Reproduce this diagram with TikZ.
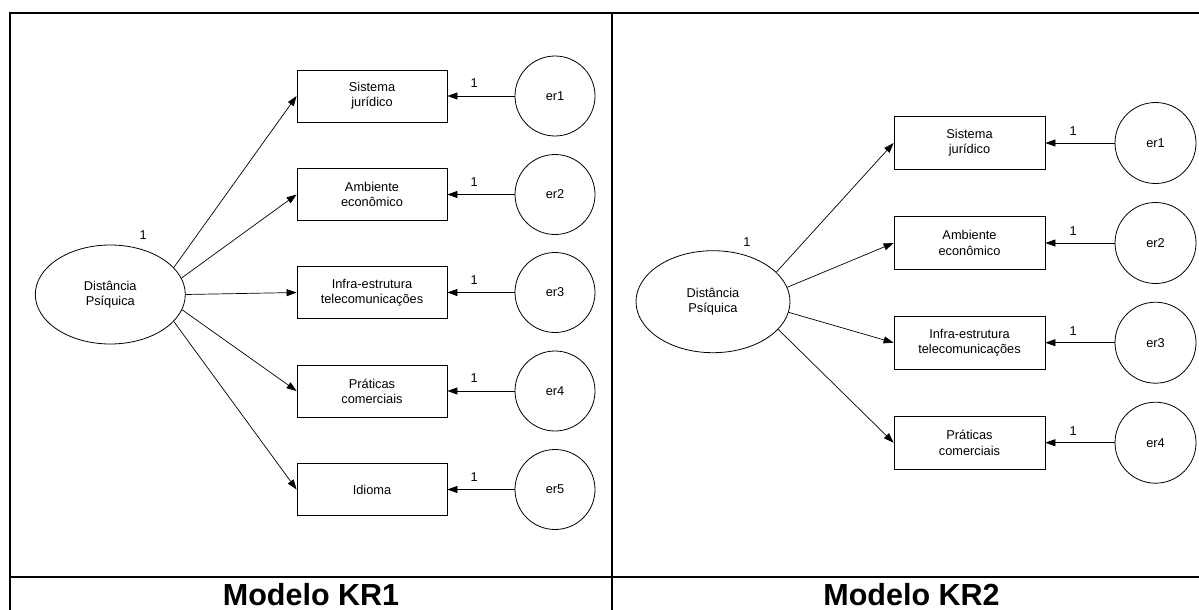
\documentclass[tikz,border=0pt]{standalone}
\usepackage{fontspec}
\setmainfont{Liberation Sans}
\usetikzlibrary{arrows.meta,shapes.geometric}
\begin{document}
\begin{tikzpicture}[x=1pt,y=-1pt,
  every node/.style={font=\fontsize{12.8}{15.3}\selectfont, inner sep=0pt},
  obs/.style={draw, line width=0.8pt, minimum width=150pt, minimum height=52pt, align=center},
  lat/.style={draw, ellipse, line width=0.8pt, align=center},
  err/.style={draw, circle, line width=0.8pt, minimum size=80pt},
  regpath/.style={line width=0.7pt, -{Triangle[length=10pt,width=7pt]}},
  frame/.style={line width=2pt},
  captext/.style={font=\fontsize{30.5}{30.5}\selectfont\bfseries}
]
\useasboundingbox (0,0) rectangle (1199,610);

% table frame
\draw[frame] (9.5,610) -- (9.5,12.7) -- (1199,12.7);
\draw[frame] (611.5,12.7) -- (611.5,610);
\draw[frame] (9.5,577) -- (1199,577);
\node[captext] (capA) at (311,595) {Modelo KR1};
\node[captext] (capB) at (911.5,595) {Modelo KR2};

% ---------- Modelo KR1 ----------
\node[lat, minimum width=150pt, minimum height=99pt] (dA) at (110.3,294.5) {Distância\\Psíquica};
\node (vA) at ([shift={(33,-59.5)}]dA.center) {1};

\node[obs] (a1) at (372,96)    {Sistema\\jurídico};
\node[obs] (a2) at (372,194.5) {Ambiente\\econômico};
\node[obs] (a3) at (372,292.5) {Infra-estrutura\\telecomunicações};
\node[obs] (a4) at (372,391)   {Práticas\\comerciais};
\node[obs] (a5) at (372,489.5) {Idioma};

\node[err] (ea1) at (555,96)    {er1};
\node[err] (ea2) at (555,194.5) {er2};
\node[err] (ea3) at (555,292.5) {er3};
\node[err] (ea4) at (555,391)   {er4};
\node[err] (ea5) at (555,489.5) {er5};

\draw[regpath] (dA.23)  -- (a1.west);
\draw[regpath] (dA.13)  -- (a2.west);
\draw[regpath] (dA.0)   -- (a3.west);
\draw[regpath] (dA.-12) -- (a4.west);
\draw[regpath] (dA.-23) -- (a5.west);

\foreach \i in {1,...,5}
  \draw[regpath] (ea\i.west) -- node[pos=0.6, yshift=12.7pt] (wa\i) {1} (a\i.east);

% ---------- Modelo KR2 ----------
\node[lat, minimum width=154pt, minimum height=102pt] (dB) at (713,301.7) {Distância\\Psíquica};
\node (vB) at ([shift={(34,-60)}]dB.center) {1};

\node[obs, minimum width=151pt, minimum height=52.6pt] (b1) at (969.5,143)   {Sistema\\jurídico};
\node[obs, minimum width=151pt, minimum height=52.6pt] (b2) at (969.5,243)   {Ambiente\\econômico};
\node[obs, minimum width=151pt, minimum height=52.6pt] (b3) at (969.5,342.7) {Infra-estrutura\\telecomunicações};
\node[obs, minimum width=151pt, minimum height=52.6pt] (b4) at (969.5,442.7) {Práticas\\comerciais};

\node[err, minimum size=81pt] (eb1) at (1155.5,143)   {er1};
\node[err, minimum size=81pt] (eb2) at (1155.5,243)   {er2};
\node[err, minimum size=81pt] (eb3) at (1155.5,342.7) {er3};
\node[err, minimum size=81pt] (eb4) at (1155.5,442.7) {er4};

\draw[regpath] (dB.25)  -- (b1.west);
\draw[regpath] (dB.11)  -- (b2.west);
\draw[regpath] (dB.-8)  -- (b3.west);
\draw[regpath] (dB.-23) -- (b4.west);

\foreach \i in {1,...,4}
  \draw[regpath] (eb\i.west) -- node[pos=0.6, yshift=12pt] (wb\i) {1} (b\i.east);
\end{tikzpicture}
\end{document}
